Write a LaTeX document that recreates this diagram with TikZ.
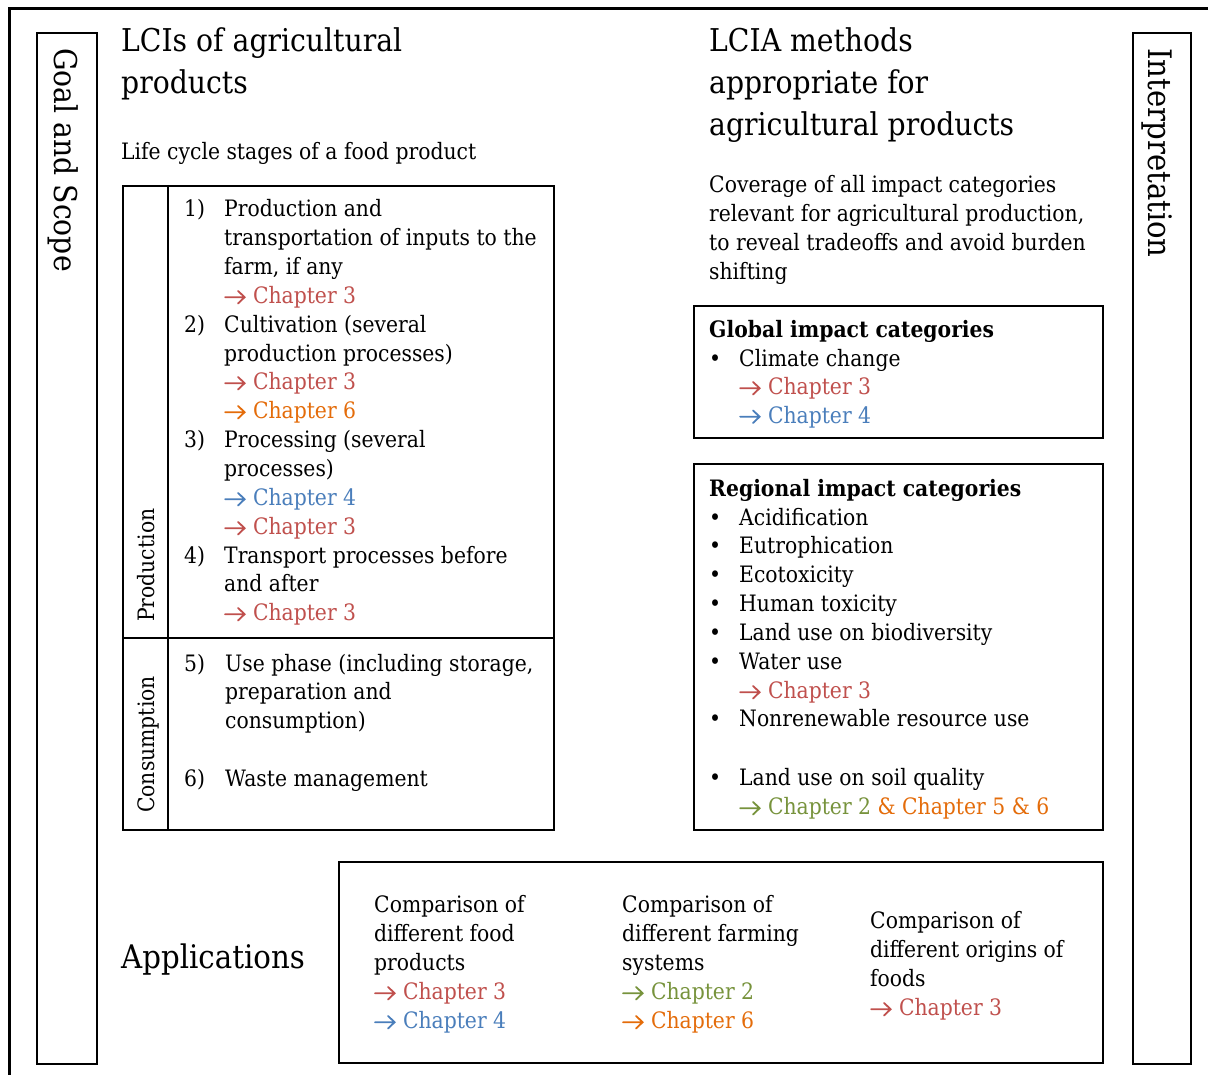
\documentclass[tikz,border=0pt]{standalone}
\usepackage{fontspec}
\setmainfont{DejaVu Serif}[FakeStretch=0.9]
\definecolor{chred}{HTML}{C0504D}
\definecolor{chblue}{HTML}{4A7EBB}
\definecolor{chgreen}{HTML}{77933C}
\definecolor{chorange}{HTML}{E46C0A}
\newcommand\bodyfont{\fontsize{22.6}{27}\selectfont}
\newcommand\headfont{\fontsize{31.4}{38}\selectfont}
% open-headed arrow that leads each chapter reference
\newcommand\toarrow{\tikz[baseline=0pt, x=1pt, y=1pt]{\draw[line width=1.8pt, line cap=round, line join=miter]
  (0,6.6) -- (19.5,6.6) (13,0.4) -- (19.5,6.6) -- (13,12.8);}\hspace{7.5pt}}
\tikzset{
  txt/.style={anchor=base west, inner sep=0pt, font=\bodyfont, yshift=-1.8pt},
  rtxt/.style={anchor=base west, inner sep=0pt, font=\bodyfont},
  head/.style={anchor=base west, inner sep=0pt, font=\headfont},
  frame/.style={draw, line width=1.8pt, rectangle, inner sep=0pt, anchor=north west},
  ch3/.style={txt, text=chred},
  ch4/.style={txt, text=chblue},
  ch2/.style={txt, text=chgreen},
  ch6/.style={txt, text=chorange}
}
\begin{document}
\begin{tikzpicture}[x=1pt, y=-1pt]
\useasboundingbox (0,0) rectangle (1208,1075);
\fill[white] (0,0) rectangle (1208,1075);

% outer frame (only its top and left sides fall inside the page)
\draw[line width=2.2pt] (9.5,1080) -- (9.5,8.5) -- (1215,8.5);

% side bars
\node[frame, minimum width=60pt, minimum height=1031pt] (goal) at (36,32) {};
\node[head, rotate=-90] (goaltxt) at (54,48) {Goal and Scope};
\node[frame, minimum width=58pt, minimum height=1031pt] (interp) at (1132,32) {};
\node[head, rotate=-90, font=\fontsize{32.4}{38}\selectfont] (interptxt) at (1148.5,48) {Interpretation};

% ---------- LCIs ----------
\node[head] (lcih1) at (121,52) {LCIs of agricultural};
\node[head] (lcih2) at (121,94) {products};
\node[txt] (stages) at (121,158) {Life cycle stages of a food product};

\node[frame, minimum width=431pt, minimum height=644pt] (lci) at (122,185) {};
\draw[line width=1.8pt] ([xshift=46pt]lci.north west) -- ([xshift=46pt]lci.south west);
\draw[line width=2.6pt] ([yshift=-453pt]lci.north west) -- ([yshift=-453pt]lci.north east);
\node[rtxt, rotate=90] (prodtxt) at (154,622) {Production};
\node[rtxt, rotate=90] (constxt) at (154,813) {Consumption};

\node[txt] (n1) at (184,215) {1)};
\node[txt] (s1a) at (224,215) {Production and};
\node[txt] (s1b) at (224,244) {transportation of inputs to the};
\node[txt] (s1c) at (224,273) {farm, if any};
\node[ch3] (s1d) at (224,302) {\toarrow Chapter 3};
\node[txt] (n2) at (184,331) {2)};
\node[txt] (s2a) at (224,331) {Cultivation (several};
\node[txt] (s2b) at (224,360) {production processes)};
\node[ch3] (s2c) at (224,388) {\toarrow Chapter 3};
\node[ch6] (s2d) at (224,417) {\toarrow Chapter 6};
\node[txt] (n3) at (184,446) {3)};
\node[txt] (s3a) at (224,446) {Processing (several};
\node[txt] (s3b) at (224,475) {processes)};
\node[ch4] (s3c) at (224,504) {\toarrow Chapter 4};
\node[ch3] (s3d) at (224,533) {\toarrow Chapter 3};
\node[txt] (n4) at (184,562) {4)};
\node[txt] (s4a) at (224,562) {Transport processes before};
\node[txt] (s4b) at (224,590) {and after};
\node[ch3] (s4c) at (224,619) {\toarrow Chapter 3};
\node[txt] (n5) at (184,670) {5)};
\node[txt] (s5a) at (225,670) {Use phase (including storage,};
\node[txt] (s5b) at (225,698) {preparation and};
\node[txt] (s5c) at (225,727) {consumption)};
\node[txt] (n6) at (184,785) {6)};
\node[txt] (s6a) at (225,785) {Waste management};

% ---------- LCIA ----------
\node[head] (lciah1) at (709,52) {LCIA methods};
\node[head] (lciah2) at (709,94) {appropriate for};
\node[head] (lciah3) at (709,136) {agricultural products};
\node[txt] (cov1) at (709,191) {Coverage of all impact categories};
\node[txt] (cov2) at (709,220) {relevant for agricultural production,};
\node[txt] (cov3) at (709,249) {to reveal tradeoffs and avoid burden};
\node[txt] (cov4) at (709,278) {shifting};

\node[frame, minimum width=409pt, minimum height=132pt] (global) at (693,305) {};
\node[txt, font=\bodyfont\bfseries] (gt) at (709,336) {Global impact categories};
\node[txt] (gb1) at (709,364.5) {•};
\node[txt] (g1) at (739,364.5) {Climate change};
\node[ch3] (g2) at (739,393) {\toarrow Chapter 3};
\node[ch4] (g3) at (739,421.5) {\toarrow Chapter 4};

\node[frame, minimum width=409pt, minimum height=366pt] (regional) at (693,463) {};
\node[txt, font=\bodyfont\bfseries] (rt) at (709,495) {Regional impact categories};
\foreach \y/\t [count=\i] in {524/Acidification, 552/Eutrophication, 581/Ecotoxicity,
    610/Human toxicity, 639/Land use on biodiversity, 668/Water use,
    725/Nonrenewable resource use, 784/Land use on soil quality}{
  \node[txt] (rb\i) at (709,\y) {•};
  \node[txt] (r\i) at (739,\y) {\t};
}
\node[ch3] (rw) at (739,697) {\toarrow Chapter 3};
\node[ch2] (rs) at (739,813) {\toarrow Chapter 2 \textcolor{chorange}{\& Chapter 5 \& 6}};

% ---------- Applications ----------
\node[head, font=\fontsize{32.5}{38}\selectfont] (apps) at (121,968) {Applications};
\node[frame, minimum width=764pt, minimum height=201pt] (appbox) at (338,861) {};

\node[txt] (a1a) at (374,911) {Comparison of};
\node[txt] (a1b) at (374,940) {different food};
\node[txt] (a1c) at (374,969) {products};
\node[ch3] (a1d) at (374,998) {\toarrow Chapter 3};
\node[ch4] (a1e) at (374,1027) {\toarrow Chapter 4};

\node[txt] (a2a) at (622,911) {Comparison of};
\node[txt] (a2b) at (622,940) {different farming};
\node[txt] (a2c) at (622,969) {systems};
\node[ch2] (a2d) at (622,998) {\toarrow Chapter 2};
\node[ch6] (a2e) at (622,1027) {\toarrow Chapter 6};

\node[txt] (a3a) at (870,927) {Comparison of};
\node[txt] (a3b) at (870,956) {different origins of};
\node[txt] (a3c) at (870,985) {foods};
\node[ch3] (a3d) at (870,1014) {\toarrow Chapter 3};
\end{tikzpicture}
\end{document}
